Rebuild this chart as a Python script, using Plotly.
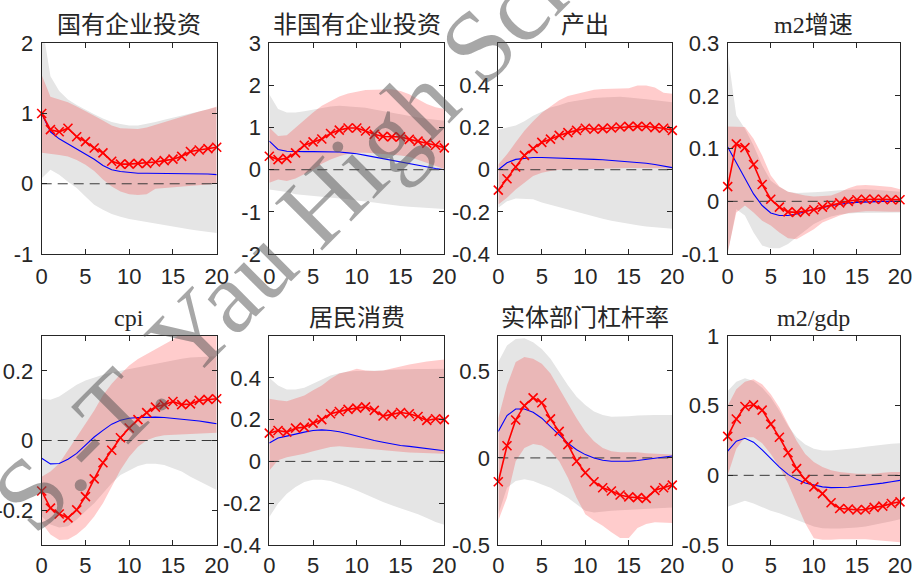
import plotly.graph_objects as go

# Horizon (periods after the shock)
steps = list(range(21))

titles = ["国有企业投资", "非国有企业投资", "产出", "m2增速",
          "cpi", "居民消费", "实体部门杠杆率", "m2/gdp"]

# ---- 国有企业投资 ----
soe_cross = [1.0, 0.77, 0.74, 0.79, 0.67, 0.60, 0.51, 0.44, 0.32, 0.28, 0.28, 0.29, 0.29, 0.31, 0.33, 0.35, 0.39, 0.46, 0.48, 0.50, 0.52]
soe_line = [1.0, 0.74, 0.64, 0.57, 0.49, 0.43, 0.35, 0.26, 0.20, 0.175, 0.16, 0.15, 0.15, 0.15, 0.15, 0.15, 0.15, 0.15, 0.14, 0.14, 0.13]
soe_pink_hi = [1.55, 1.24, 1.2, 1.16, 1.1, 1.04, 0.97, 0.9, 0.83, 0.79, 0.78, 0.78, 0.8, 0.84, 0.88, 0.92, 0.96, 1.0, 1.03, 1.06, 1.1]
soe_pink_lo = [0.44, 0.43, 0.41, 0.39, 0.34, 0.27, 0.18, 0.06, -0.04, -0.11, -0.15, -0.16, -0.15, -0.07, -0.05, -0.04, -0.03, -0.02, -0.02, -0.01, 0.0]
soe_grey_hi = [2.3, 1.53, 1.32, 1.2, 1.12, 1.05, 0.99, 0.93, 0.88, 0.85, 0.83, 0.83, 0.85, 0.88, 0.91, 0.94, 0.97, 1.0, 1.03, 1.06, 1.09]
soe_grey_lo = [0.08, 0.2, 0.13, 0.03, -0.06, -0.18, -0.3, -0.37, -0.43, -0.47, -0.5, -0.52, -0.55, -0.57, -0.59, -0.61, -0.63, -0.65, -0.67, -0.69, -0.7]

# ---- 非国有企业投资 ----
pri_cross = [0.32, 0.24, 0.27, 0.40, 0.58, 0.66, 0.73, 0.86, 0.94, 0.99, 0.99, 0.92, 0.84, 0.79, 0.78, 0.78, 0.72, 0.68, 0.63, 0.58, 0.52]
pri_line = [0.68, 0.48, 0.44, 0.43, 0.43, 0.43, 0.43, 0.43, 0.42, 0.40, 0.38, 0.34, 0.30, 0.27, 0.23, 0.19, 0.15, 0.11, 0.07, 0.03, 0.0]
pri_pink_hi = [1.0, 0.8, 0.82, 1.0, 1.2, 1.36, 1.52, 1.63, 1.74, 1.81, 1.85, 1.89, 1.9, 1.91, 1.91, 1.87, 1.79, 1.67, 1.56, 1.48, 1.44]
pri_pink_lo = [-0.31, -0.23, -0.27, -0.21, -0.11, 0.0, 0.14, 0.24, 0.32, 0.38, 0.40, 0.40, 0.39, 0.37, 0.36, 0.34, 0.31, 0.24, 0.17, 0.09, 0.02]
pri_grey_hi = [1.79, 1.44, 1.36, 1.36, 1.39, 1.43, 1.47, 1.5, 1.52, 1.5, 1.49, 1.47, 1.43, 1.39, 1.36, 1.32, 1.28, 1.24, 1.21, 1.18, 1.16]
pri_grey_lo = [-0.47, -0.5, -0.53, -0.58, -0.6, -0.62, -0.64, -0.66, -0.68, -0.7, -0.73, -0.76, -0.78, -0.81, -0.84, -0.86, -0.88, -0.9, -0.91, -0.92, -0.93]

# ---- 产出 ----
out_cross = [-0.097, -0.043, 0.013, 0.068, 0.10, 0.13, 0.145, 0.163, 0.176, 0.187, 0.197, 0.192, 0.195, 0.198, 0.203, 0.206, 0.206, 0.205, 0.2, 0.197, 0.187]
out_line = [0.0, 0.033, 0.049, 0.055, 0.058, 0.058, 0.057, 0.056, 0.055, 0.053, 0.051, 0.049, 0.047, 0.044, 0.041, 0.038, 0.035, 0.031, 0.025, 0.018, 0.01]
out_pink_hi = [0.025, 0.073, 0.13, 0.185, 0.23, 0.27, 0.30, 0.33, 0.35, 0.36, 0.37, 0.38, 0.383, 0.385, 0.385, 0.387, 0.4, 0.4, 0.39, 0.365, 0.36]
out_pink_lo = [-0.165, -0.133, -0.094, -0.06, -0.03, -0.014, -0.006, 0.0, 0.002, 0.003, 0.004, 0.005, 0.005, 0.006, 0.007, 0.008, 0.008, 0.008, 0.008, 0.007, 0.006]
out_grey_hi = [0.19, 0.2, 0.21, 0.23, 0.256, 0.275, 0.295, 0.306, 0.32, 0.327, 0.335, 0.34, 0.343, 0.346, 0.346, 0.343, 0.34, 0.335, 0.33, 0.325, 0.32]
out_grey_lo = [-0.18, -0.15, -0.137, -0.137, -0.14, -0.155, -0.165, -0.177, -0.19, -0.2, -0.21, -0.222, -0.233, -0.242, -0.25, -0.257, -0.263, -0.269, -0.274, -0.277, -0.28]

# ---- m2增速 ----
m2g_cross = [0.028, 0.109, 0.102, 0.07, 0.032, 0.004, -0.011, -0.02, -0.021, -0.019, -0.016, -0.011, -0.007, -0.003, 0.0, 0.003, 0.004, 0.004, 0.004, 0.003, 0.003]
m2g_line = [0.103, 0.074, 0.043, 0.014, -0.008, -0.022, -0.027, -0.027, -0.024, -0.019, -0.015, -0.012, -0.008, -0.006, -0.003, -0.002, -0.001, -0.001, 0.0, 0.0, 0.0]
m2g_pink_hi = [0.142, 0.142, 0.141, 0.119, 0.087, 0.049, 0.028, 0.018, 0.014, 0.011, 0.009, 0.01, 0.011, 0.017, 0.025, 0.03, 0.031, 0.03, 0.029, 0.027, 0.023]
m2g_pink_lo = [-0.097, -0.021, -0.008, -0.021, -0.037, -0.046, -0.059, -0.07, -0.072, -0.062, -0.053, -0.04, -0.034, -0.027, -0.022, -0.02, -0.019, -0.019, -0.019, -0.02, -0.02]
m2g_grey_hi = [0.28, 0.163, 0.138, 0.106, 0.068, 0.039, 0.027, 0.018, 0.016, 0.016, 0.017, 0.018, 0.02, 0.021, 0.022, 0.023, 0.023, 0.022, 0.021, 0.02, 0.018]
m2g_grey_lo = [-0.1, -0.015, -0.027, -0.059, -0.084, -0.089, -0.089, -0.081, -0.068, -0.055, -0.043, -0.035, -0.029, -0.025, -0.023, -0.022, -0.021, -0.021, -0.021, -0.021, -0.021]

# ---- cpi ----
cpi_cross = [-0.145, -0.194, -0.211, -0.222, -0.199, -0.161, -0.11, -0.064, -0.028, 0.008, 0.036, 0.06, 0.08, 0.096, 0.103, 0.112, 0.103, 0.105, 0.115, 0.118, 0.12]
cpi_line = [-0.051, -0.067, -0.066, -0.054, -0.037, -0.013, 0.01, 0.029, 0.047, 0.058, 0.064, 0.066, 0.067, 0.067, 0.066, 0.064, 0.062, 0.059, 0.056, 0.052, 0.048]
cpi_pink_hi = [-0.104, -0.089, -0.066, -0.028, 0.01, 0.048, 0.086, 0.13, 0.163, 0.19, 0.215, 0.234, 0.248, 0.262, 0.277, 0.29, 0.31, 0.33, 0.35, 0.36, 0.37]
cpi_pink_lo = [-0.237, -0.27, -0.286, -0.284, -0.27, -0.248, -0.218, -0.18, -0.132, -0.085, -0.047, -0.018, 0.001, 0.01, 0.015, 0.018, 0.018, 0.018, 0.02, 0.021, 0.022]
cpi_grey_hi = [0.12, 0.117, 0.126, 0.143, 0.16, 0.172, 0.181, 0.189, 0.195, 0.2, 0.205, 0.21, 0.215, 0.221, 0.226, 0.232, 0.235, 0.238, 0.24, 0.241, 0.242]
cpi_grey_lo = [-0.218, -0.241, -0.25, -0.246, -0.227, -0.203, -0.18, -0.151, -0.123, -0.099, -0.085, -0.073, -0.067, -0.067, -0.07, -0.08, -0.089, -0.104, -0.118, -0.13, -0.142]

# ---- 居民消费 ----
con_cross = [0.135, 0.148, 0.14, 0.159, 0.164, 0.183, 0.2, 0.228, 0.239, 0.249, 0.255, 0.261, 0.244, 0.217, 0.225, 0.234, 0.228, 0.215, 0.196, 0.204, 0.2]
con_line = [0.088, 0.112, 0.121, 0.132, 0.14, 0.148, 0.151, 0.148, 0.142, 0.132, 0.121, 0.11, 0.1, 0.092, 0.084, 0.076, 0.072, 0.067, 0.062, 0.057, 0.051]
con_pink_hi = [0.3, 0.292, 0.288, 0.3, 0.315, 0.34, 0.363, 0.395, 0.42, 0.43, 0.443, 0.435, 0.433, 0.435, 0.443, 0.454, 0.464, 0.472, 0.478, 0.483, 0.488]
con_pink_lo = [-0.043, 0.005, 0.02, 0.029, 0.037, 0.049, 0.06, 0.069, 0.072, 0.07, 0.065, 0.061, 0.056, 0.053, 0.05, 0.046, 0.043, 0.041, 0.04, 0.038, 0.037]
con_grey_hi = [0.4, 0.363, 0.344, 0.344, 0.352, 0.371, 0.39, 0.411, 0.422, 0.43, 0.432, 0.432, 0.432, 0.435, 0.438, 0.44, 0.441, 0.442, 0.442, 0.443, 0.443]
con_grey_lo = [-0.266, -0.202, -0.155, -0.123, -0.099, -0.088, -0.088, -0.094, -0.107, -0.123, -0.139, -0.158, -0.175, -0.194, -0.21, -0.226, -0.239, -0.253, -0.271, -0.29, -0.303]

# ---- 实体部门杠杆率 ----
lev_cross = [-0.137, 0.07, 0.218, 0.3, 0.345, 0.317, 0.224, 0.152, 0.076, -0.019, -0.085, -0.137, -0.171, -0.19, -0.213, -0.224, -0.228, -0.232, -0.186, -0.171, -0.156]
lev_line = [0.152, 0.243, 0.281, 0.281, 0.262, 0.228, 0.18, 0.133, 0.085, 0.047, 0.019, 0.0, -0.013, -0.019, -0.021, -0.019, -0.015, -0.009, 0.0, 0.006, 0.011]
lev_pink_hi = [0.228, 0.417, 0.55, 0.58, 0.57, 0.54, 0.485, 0.4, 0.313, 0.228, 0.152, 0.095, 0.057, 0.038, 0.032, 0.032, 0.032, 0.027, 0.023, 0.019, 0.019]
lev_pink_lo = [-0.36, -0.228, -0.019, 0.057, 0.08, 0.072, 0.038, -0.019, -0.114, -0.228, -0.323, -0.36, -0.389, -0.427, -0.46, -0.46, -0.402, -0.38, -0.37, -0.374, -0.374]
lev_grey_hi = [0.55, 0.645, 0.683, 0.687, 0.664, 0.626, 0.57, 0.493, 0.417, 0.351, 0.304, 0.266, 0.247, 0.237, 0.237, 0.239, 0.243, 0.247, 0.247, 0.247, 0.247]
lev_grey_lo = [-0.323, -0.171, -0.133, -0.123, -0.133, -0.152, -0.171, -0.2, -0.228, -0.266, -0.304, -0.313, -0.308, -0.304, -0.3, -0.297, -0.295, -0.292, -0.29, -0.287, -0.285]

# ---- m2/gdp ----
m2r_cross = [0.28, 0.404, 0.494, 0.506, 0.468, 0.368, 0.273, 0.162, 0.048, -0.031, -0.083, -0.131, -0.197, -0.238, -0.242, -0.249, -0.245, -0.23, -0.221, -0.202, -0.19]
m2r_line = [0.173, 0.245, 0.266, 0.238, 0.183, 0.119, 0.059, 0.007, -0.029, -0.055, -0.071, -0.083, -0.088, -0.088, -0.086, -0.078, -0.072, -0.064, -0.056, -0.046, -0.036]
m2r_pink_hi = [0.5, 0.618, 0.672, 0.689, 0.653, 0.582, 0.487, 0.368, 0.249, 0.154, 0.095, 0.059, 0.036, 0.024, 0.018, 0.012, 0.012, 0.012, 0.018, 0.024, 0.024]
m2r_pink_lo = [0.0, 0.19, 0.273, 0.273, 0.23, 0.154, 0.059, -0.059, -0.202, -0.344, -0.451, -0.463, -0.463, -0.458, -0.456, -0.458, -0.458, -0.463, -0.468, -0.475, -0.48]
m2r_grey_hi = [0.606, 0.672, 0.696, 0.677, 0.629, 0.558, 0.463, 0.356, 0.273, 0.221, 0.19, 0.178, 0.178, 0.183, 0.19, 0.197, 0.206, 0.214, 0.221, 0.226, 0.23]
m2r_grey_lo = [-0.226, -0.202, -0.183, -0.202, -0.226, -0.254, -0.273, -0.292, -0.321, -0.344, -0.368, -0.38, -0.382, -0.382, -0.38, -0.375, -0.368, -0.356, -0.344, -0.33, -0.316]

# Axis ranges and tick labels per panel
y_ranges = [[-1, 2], [-2, 3], [-0.4, 0.6], [-0.1, 0.3],
            [-0.3, 0.3], [-0.4, 0.6], [-0.5, 0.7], [-0.5, 1]]
y_tickvals = [[-1, 0, 1, 2], [-2, -1, 0, 1, 2, 3], [-0.4, -0.2, 0, 0.2, 0.4], [-0.1, 0, 0.1, 0.2, 0.3],
              [-0.2, 0, 0.2], [-0.4, -0.2, 0, 0.2, 0.4], [-0.5, 0, 0.5], [-0.5, 0, 0.5, 1]]
y_ticktext = [["-1", "0", "1", "2"], ["-2", "-1", "0", "1", "2", "3"],
              ["-0.4", "-0.2", "0", "0.2", "0.4"], ["-0.1", "0", "0.1", "0.2", "0.3"],
              ["-0.2", "0", "0.2"], ["-0.4", "-0.2", "0", "0.2", "0.4"],
              ["-0.5", "0", "0.5"], ["-0.5", "0", "0.5", "1"]]
x_tickvals = [0, 5, 10, 15, 20]
x_ticktext = ["0", "5", "10", "15", "20"]

panels = [
    (soe_cross, soe_line, soe_pink_hi, soe_pink_lo, soe_grey_hi, soe_grey_lo),
    (pri_cross, pri_line, pri_pink_hi, pri_pink_lo, pri_grey_hi, pri_grey_lo),
    (out_cross, out_line, out_pink_hi, out_pink_lo, out_grey_hi, out_grey_lo),
    (m2g_cross, m2g_line, m2g_pink_hi, m2g_pink_lo, m2g_grey_hi, m2g_grey_lo),
    (cpi_cross, cpi_line, cpi_pink_hi, cpi_pink_lo, cpi_grey_hi, cpi_grey_lo),
    (con_cross, con_line, con_pink_hi, con_pink_lo, con_grey_hi, con_grey_lo),
    (lev_cross, lev_line, lev_pink_hi, lev_pink_lo, lev_grey_hi, lev_grey_lo),
    (m2r_cross, m2r_line, m2r_pink_hi, m2r_pink_lo, m2r_grey_hi, m2r_grey_lo),
]

# ---- layout geometry (pixels of a 912x577 canvas) ----
W, H = 912, 577
col_px = [(41.7, 216.7), (269.3, 444.3), (498.3, 672.3), (727.7, 900.0)]
row_px = [(43.3, 254.0), (336.0, 545.0)]
title_y_px = [25, 318]

INK = "#262626"
GREY_FILL = "rgb(229,229,229)"
PINK_FILL = "rgba(255,0,0,0.2)"

fig = go.Figure()
layout = dict(
    width=W, height=H,
    margin=dict(l=0, r=0, t=0, b=0, pad=0, autoexpand=False),
    paper_bgcolor="white", plot_bgcolor="white",
    showlegend=False,
    annotations=[],
)

for i, (cross, line, p_hi, p_lo, g_hi, g_lo) in enumerate(panels):
    n = i + 1
    xa, ya = f"x{n}", f"y{n}"
    r, c = divmod(i, 4)
    x0, x1 = col_px[c]
    top, bot = row_px[r]

    band_x = steps + steps[::-1]
    fig.add_trace(go.Scatter(x=band_x, y=g_hi + g_lo[::-1], fill="toself",
                             fillcolor=GREY_FILL, line=dict(width=0),
                             mode="lines", hoverinfo="skip", xaxis=xa, yaxis=ya))
    fig.add_trace(go.Scatter(x=band_x, y=p_hi + p_lo[::-1], fill="toself",
                             fillcolor=PINK_FILL, line=dict(width=0),
                             mode="lines", hoverinfo="skip", xaxis=xa, yaxis=ya))
    fig.add_trace(go.Scatter(x=[steps[0], steps[-1]], y=[0, 0], mode="lines",
                             line=dict(color="#3a3a3a", width=1, dash="10px,6px"),
                             xaxis=xa, yaxis=ya))
    fig.add_trace(go.Scatter(x=steps, y=line, mode="lines",
                             line=dict(color="#0000ff", width=1.1),
                             xaxis=xa, yaxis=ya))
    fig.add_trace(go.Scatter(x=steps, y=cross, mode="lines+markers",
                             line=dict(color="#ff0000", width=1.6),
                             marker=dict(symbol="x-thin-open", size=9,
                                         line=dict(color="#ff0000", width=1.6)),
                             cliponaxis=False, xaxis=xa, yaxis=ya))

    axis_common = dict(showline=True, mirror="ticks", linecolor=INK, linewidth=1,
                       ticks="inside", ticklen=5, tickcolor=INK, tickwidth=1,
                       showgrid=False, zeroline=False, automargin=False,
                       ticklabeloverflow="allow",
                       tickfont=dict(family="Liberation Sans, Arial", size=22, color=INK))
    layout[f"xaxis{n}"] = dict(axis_common, domain=[x0 / W, x1 / W], anchor=ya,
                                range=[0, 20], tickvals=x_tickvals, ticktext=x_ticktext,
                                ticklabelstandoff=3 if r == 0 else 1)
    layout[f"yaxis{n}"] = dict(axis_common, domain=[1 - bot / H, 1 - top / H], anchor=xa,
                                range=y_ranges[i], tickvals=y_tickvals[i],
                                ticktext=y_ticktext[i], ticklabelstandoff=3)

    layout["annotations"].append(dict(
        text=titles[i], x=(x0 + x1) / 2 / W, y=1 - title_y_px[r] / H,
        xref="paper", yref="paper", xanchor="center", yanchor="middle",
        showarrow=False,
        font=dict(family="Liberation Serif, Noto Sans CJK SC", size=24, color=INK)))

# School watermark across the figure
layout["annotations"].append(dict(
    text="S.-T. Yau High School", x=334 / W, y=1 - 189 / H,
    xref="paper", yref="paper", xanchor="center", yanchor="middle",
    textangle=-45, showarrow=False,
    font=dict(family="Liberation Serif, Times New Roman", size=102,
              color="rgba(80,80,80,0.5)")))

fig.update_layout(**layout)
fig.write_html("out.html")
